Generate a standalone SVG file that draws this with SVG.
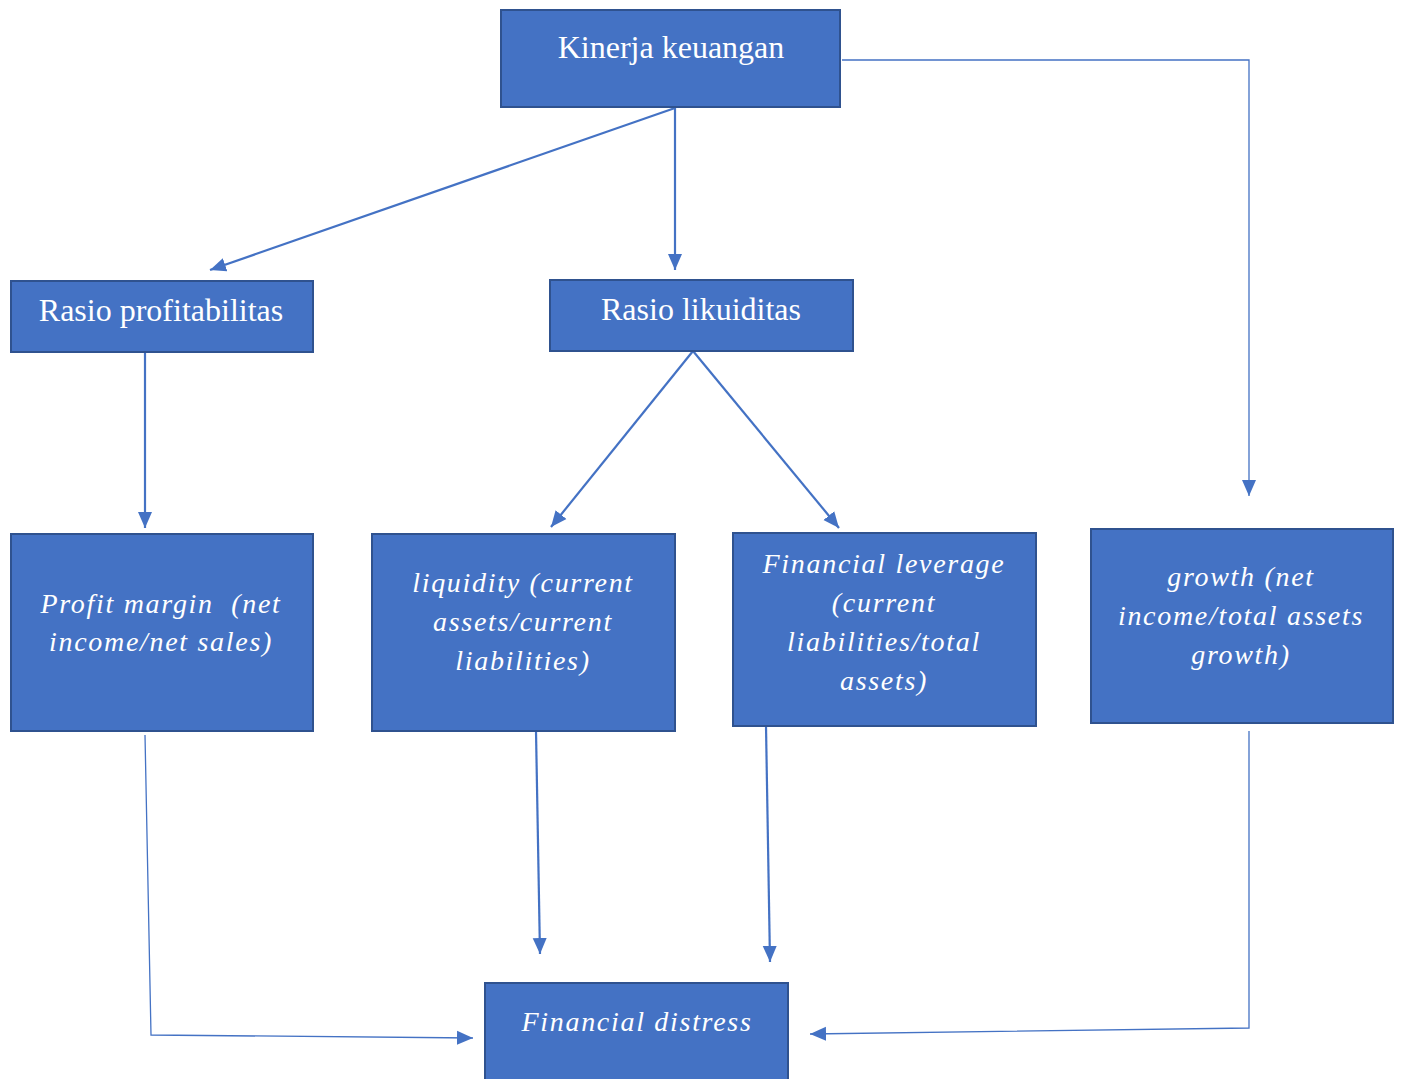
<svg xmlns="http://www.w3.org/2000/svg" width="1403" height="1079" viewBox="0 0 1403 1079">
<style>
.box{fill:#4472C4;stroke:#2F528F;stroke-width:2}
.t{font-family:"Liberation Serif","Times New Roman",serif;font-size:28px;fill:#fff;text-anchor:middle}
.u{font-size:32px}
.i{font-style:italic;letter-spacing:1.7px}
.c{fill:none;stroke:#4472C4;stroke-width:2.2}
.thin{stroke-width:1.3}
</style>
<defs>
<marker id="a" markerUnits="userSpaceOnUse" markerWidth="18" markerHeight="16" refX="16" refY="8" orient="auto"><path d="M0,1 L16,8 L0,15 Z" fill="#4472C4"/></marker>
</defs>
<rect width="1403" height="1079" fill="#fff"/>
<g id="connectors">
<line class="c" x1="675" y1="108" x2="210" y2="270" marker-end="url(#a)"/>
<line class="c" x1="675" y1="108" x2="675" y2="270" marker-end="url(#a)"/>
<polyline class="c thin" points="842,60 1249,60 1249,496" marker-end="url(#a)"/>
<line class="c" x1="145" y1="352" x2="145" y2="528" marker-end="url(#a)"/>
<line class="c" x1="693" y1="351" x2="551" y2="527" marker-end="url(#a)"/>
<line class="c" x1="693" y1="351" x2="839" y2="528" marker-end="url(#a)"/>
<polyline class="c thin" points="145,735 151,1035 473,1038" marker-end="url(#a)"/>
<line class="c" x1="536" y1="731" x2="540" y2="954" marker-end="url(#a)"/>
<line class="c" x1="766" y1="726" x2="770" y2="962" marker-end="url(#a)"/>
<polyline class="c thin" points="1249,731 1249,1028 810,1034" marker-end="url(#a)"/>
</g>
<g id="kinerja"><rect class="box" x="501" y="10" width="339" height="97"/><text class="t u" x="671" y="58">Kinerja keuangan</text></g>
<g id="profitabilitas"><rect class="box" x="11" y="281" width="302" height="71"/><text class="t u" x="161" y="321">Rasio profitabilitas</text></g>
<g id="likuiditas"><rect class="box" x="550" y="280" width="303" height="71"/><text class="t u" x="701" y="320">Rasio likuiditas</text></g>
<g id="profitmargin"><rect class="box" x="11" y="534" width="302" height="197"/><text class="t i" x="161" y="613" xml:space="preserve">Profit margin  (net</text><text class="t i" x="161" y="651">income/net sales)</text></g>
<g id="liquidity"><rect class="box" x="372" y="534" width="303" height="197"/><text class="t i" x="523" y="592">liquidity (current</text><text class="t i" x="523" y="631">assets/current</text><text class="t i" x="523" y="670">liabilities)</text></g>
<g id="leverage"><rect class="box" x="733" y="533" width="303" height="193"/><text class="t i" x="884" y="573">Financial leverage</text><text class="t i" x="884" y="612">(current</text><text class="t i" x="884" y="651">liabilities/total</text><text class="t i" x="884" y="690">assets)</text></g>
<g id="growth"><rect class="box" x="1091" y="529" width="302" height="194"/><text class="t i" x="1241" y="586">growth (net</text><text class="t i" x="1241" y="625">income/total assets</text><text class="t i" x="1241" y="664">growth)</text></g>
<g id="distress"><rect class="box" x="485" y="983" width="303" height="100"/><text class="t i" x="637" y="1031">Financial distress</text></g>
</svg>
